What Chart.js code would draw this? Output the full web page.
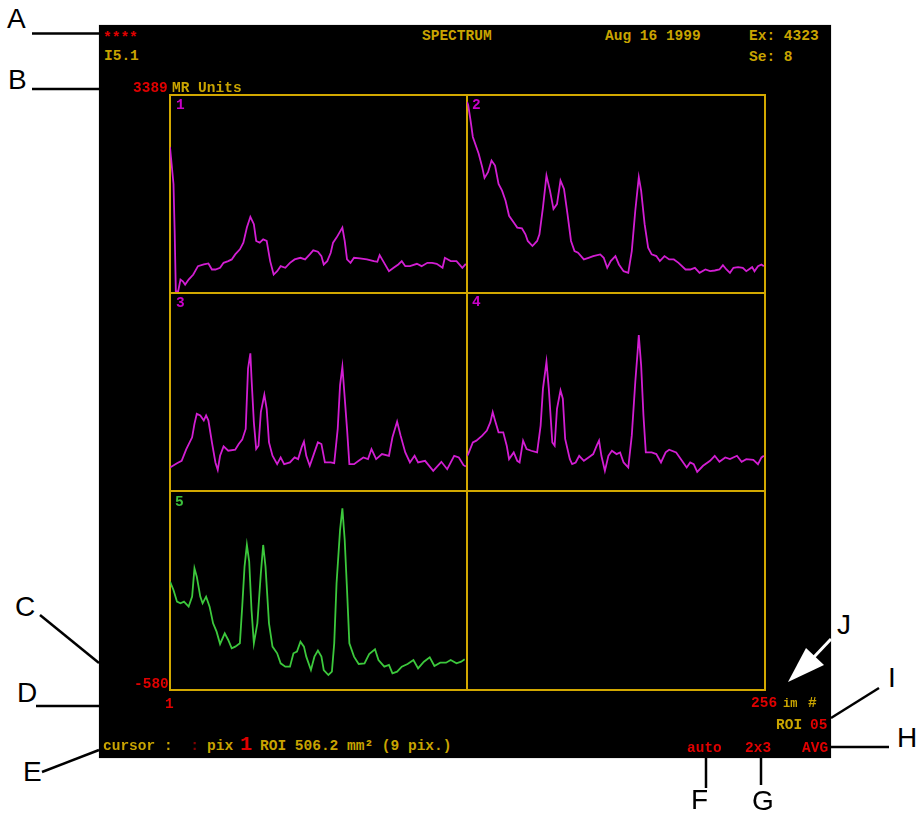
<!DOCTYPE html>
<html><head><meta charset="utf-8">
<script src="https://cdn.jsdelivr.net/npm/chart.js@4.4.1/dist/chart.umd.min.js"></script>
<style>
html,body{margin:0;padding:0;background:#fff;width:918px;height:815px;overflow:hidden;position:relative}
#scr{position:absolute;left:99px;top:25px;width:732px;height:733px;background:#000;box-shadow:0 0 1px #888}
.t{position:absolute;z-index:3;font-family:"Liberation Mono","DejaVu Sans Mono",monospace;font-size:14.5px;line-height:14.5px;white-space:pre;font-weight:bold}
.y{color:#c9a400}.r{color:#e00000}.m{color:#c800c8}.g{color:#3cc03c}.dr{color:#800000}
.L{position:absolute;z-index:3;font-family:"Liberation Sans",Arial,sans-serif;font-size:28px;line-height:28px;color:#000}
canvas{position:absolute;z-index:2}
svg{position:absolute;left:0;top:0;z-index:4}
</style></head><body>
<div id="scr"></div>

<div class="t r" style="left:103px;top:31px">****</div>
<div class="t y" style="left:104px;top:49px">I5.1</div>
<div class="t y" style="left:422px;top:29px">SPECTRUM</div>
<div class="t y" style="left:605px;top:29px">Aug 16 1999</div>
<div class="t y" style="left:749px;top:29px">Ex: 4323</div>
<div class="t y" style="left:749px;top:50px">Se: 8</div>
<div class="t r" style="left:133px;top:81px">3389</div>
<div class="t y" style="left:172px;top:81px">MR Units</div>
<div class="t m" style="left:176px;top:98px">1</div>
<div class="t m" style="left:472px;top:98px">2</div>
<div class="t m" style="left:176px;top:296px">3</div>
<div class="t m" style="left:472px;top:295px">4</div>
<div class="t g" style="left:175px;top:495px">5</div>
<div class="t r" style="left:134px;top:677px">-580</div>
<div class="t r" style="left:165px;top:697px">1</div>
<div class="t r" style="left:751px;top:696px">256</div>
<div class="t y" style="left:783px;top:696px"><span style="font-size:12px">im</span></div>
<div class="t y" style="left:808px;top:696px">#</div>
<div class="t y" style="left:776px;top:718px">ROI</div>
<div class="t r" style="left:810px;top:718px">05</div>
<div class="t r" style="left:687px;top:741px">auto</div>
<div class="t r" style="left:745px;top:741px">2x3</div>
<div class="t r" style="left:802px;top:741px">AVG</div>
<div class="t y" style="left:103px;top:739px">cursor :</div>
<div class="t dr" style="left:190px;top:739px">:</div>
<div class="t y" style="left:207px;top:739px">pix</div>
<div class="t r" style="left:240px;top:735px;font-size:20px;line-height:20px;font-weight:bold">1</div>
<div class="t y" style="left:260px;top:739px">ROI 506.2 mm² (9 pix.)</div>

<div class="L" style="left:7px;top:5px">A</div>
<div class="L" style="left:8px;top:66px">B</div>
<div class="L" style="left:15px;top:593px">C</div>
<div class="L" style="left:17px;top:679px">D</div>
<div class="L" style="left:23px;top:758px">E</div>
<div class="L" style="left:691px;top:786px">F</div>
<div class="L" style="left:752px;top:787px">G</div>
<div class="L" style="left:897px;top:724px">H</div>
<div class="L" style="left:888px;top:664px">I</div>
<div class="L" style="left:837px;top:611px">J</div>

<svg width="918" height="815">
 <g stroke="#000" stroke-width="2.5" fill="none">
  <line x1="32" y1="33.5" x2="99" y2="33.5"/>
  <line x1="32" y1="89" x2="99" y2="89"/>
  <line x1="40" y1="615" x2="99" y2="663"/>
  <line x1="36" y1="706" x2="99" y2="706"/>
  <line x1="42" y1="772" x2="99" y2="750"/>
  <line x1="706" y1="758" x2="706" y2="788"/>
  <line x1="761" y1="758" x2="761" y2="785"/>
  <line x1="831" y1="747" x2="889" y2="747"/>
  <line x1="831" y1="718" x2="879" y2="688"/>
 </g>
 <line x1="831" y1="639" x2="813" y2="658" stroke="#fff" stroke-width="3"/>
 <polygon points="788,682 806,648 824,665" fill="#fff"/>
</svg>

<script>
// Axis ranges (MR units / image number)
const xTicks = [1, 256];
const yTicks = [-580, 3389];

// Spectra: [image #, MR units]
const spectrum1 = [[1,2346],[4,1606],[5,665],[6,-546],[8,-546],[10,-311],[12,-345],[14,-412],[17,-311],[21,-210],[25,-42],[30,-8],[34,12],[37,-109],[40,-109],[44,-75],[47,25],[51,59],[54,93],[57,194],[61,295],[64,429],[67,732],[70,947],[73,799],[75,463],[78,429],[81,496],[84,463],[87,59],[90,-210],[93,-143],[96,-42],[100,-75],[104,25],[108,93],[113,126],[117,93],[121,194],[124,274],[128,247],[131,160],[133,-8],[136,59],[139,227],[141,429],[144,530],[149,732],[151,463],[153,93],[156,25],[159,126],[164,113],[170,93],[176,59],[179,46],[181,180],[184,59],[189,-143],[193,-75],[197,-8],[200,59],[203,-42],[207,-42],[213,5],[217,-42],[222,25],[226,25],[230,5],[235,-75],[237,126],[242,59],[247,59],[252,-75],[255,5]];

const spectrum2 = [[1,3250],[2,3187],[4,2884],[6,2548],[11,2212],[14,1943],[16,1727],[19,1842],[22,2077],[25,1976],[28,1606],[31,1472],[34,1270],[37,967],[41,833],[44,732],[48,718],[51,597],[53,463],[57,362],[61,463],[63,597],[66,1135],[69,1774],[72,1472],[75,1102],[78,1203],[81,1674],[84,1505],[87,1001],[90,463],[93,261],[96,227],[101,93],[105,126],[109,160],[115,194],[118,126],[121,-75],[124,59],[128,160],[131,-8],[135,-143],[139,-176],[142,261],[145,1068],[148,1741],[150,1472],[153,799],[156,328],[159,194],[163,160],[166,59],[170,160],[174,93],[178,93],[182,25],[188,-109],[192,-109],[196,-75],[200,-176],[205,-109],[209,-143],[213,-129],[217,-109],[220,-22],[223,-109],[226,-176],[229,-75],[233,-62],[237,-75],[240,-143],[245,-62],[247,-143],[250,-42],[253,-8],[255,-42]];

const spectrum3 = [[1,-109],[7,-22],[11,25],[15,261],[20,496],[22,765],[24,967],[27,934],[30,833],[32,934],[34,833],[37,395],[40,-8],[42,-156],[44,126],[47,315],[51,227],[57,247],[60,362],[63,449],[66,664],[68,1875],[70,2178],[71,1674],[73,799],[75,261],[77,328],[79,1001],[82,1351],[84,1068],[86,395],[89,126],[93,-42],[96,93],[99,-42],[104,-8],[108,93],[111,59],[114,294],[116,409],[118,126],[121,-75],[125,194],[128,395],[131,362],[134,-8],[139,-8],[142,-22],[145,664],[147,1539],[149,1909],[150,1606],[153,664],[155,-42],[159,-42],[163,25],[167,93],[171,59],[174,261],[178,59],[183,160],[189,126],[192,496],[196,812],[199,530],[203,194],[207,-8],[211,126],[214,-8],[220,25],[227,-176],[234,5],[239,-143],[245,126],[249,93],[253,-62],[255,-89]];

const spectrum4 = [[1,120],[2,160],[6,395],[9,429],[14,530],[18,631],[21,799],[23,1001],[25,833],[28,597],[32,597],[35,328],[37,59],[41,194],[44,25],[46,-8],[49,429],[52,261],[56,227],[61,194],[64,732],[66,1472],[69,2010],[71,1472],[74,395],[76,328],[78,1068],[81,1438],[83,1270],[85,463],[89,59],[91,-42],[94,-8],[97,126],[101,25],[105,93],[109,160],[112,328],[114,429],[116,126],[119,-176],[122,126],[125,227],[129,160],[132,194],[135,-8],[139,-109],[142,530],[145,1606],[147,2212],[148,2548],[150,1943],[152,934],[154,194],[159,194],[163,160],[167,-8],[171,194],[174,247],[180,194],[183,93],[189,-109],[192,-8],[195,-42],[198,-196],[203,-75],[209,25],[213,126],[217,5],[222,93],[226,59],[232,126],[236,5],[240,59],[246,46],[250,-42],[253,93],[255,126]];

const spectrum5 = [[1,1581],[4,1415],[7,1182],[10,1149],[13,1182],[17,1083],[20,1282],[22,1847],[24,1681],[27,1282],[29,1149],[32,1282],[35,1083],[38,750],[41,584],[44,338],[48,551],[51,418],[54,251],[57,285],[61,351],[63,1083],[65,1881],[67,2313],[69,1981],[71,1016],[73,351],[76,750],[79,1748],[81,2313],[83,1881],[86,750],[89,285],[93,152],[96,-48],[100,-115],[104,-115],[107,152],[110,185],[113,384],[116,285],[118,85],[122,-181],[125,85],[128,205],[131,85],[133,-181],[137,-281],[140,-214],[142,351],[144,1548],[147,2612],[149,3044],[151,2413],[153,1415],[155,351],[159,85],[163,-61],[168,-48],[172,138],[177,231],[180,18],[185,-115],[189,-81],[192,-248],[196,-214],[200,-115],[205,-61],[210,18],[214,-148],[219,-15],[224,72],[228,-101],[233,-35],[238,-35],[242,18],[247,-48],[251,-15],[254,32]];

const panelSeries = [spectrum1, spectrum2, spectrum3, spectrum4, spectrum5, null];
const panelColors = ['#d21ed2','#d21ed2','#d21ed2','#d21ed2','#3cc83c',null];

// Layout (pixels)
const colEdges = [170, 467, 765];
const rowEdges = [95, 293, 491, 690];
const PAD = 3;

const frame = {
  id: 'frame',
  beforeDatasetsDraw(ch) {
    const a = ch.chartArea, ctx = ch.ctx;
    ctx.save();
    ctx.strokeStyle = '#d2a800';
    ctx.lineWidth = 2;
    ctx.strokeRect(a.left, a.top, a.right - a.left, a.bottom - a.top);
    ctx.restore();
  }
};

panelSeries.forEach((series, i) => {
  const col = i % 2, row = Math.floor(i / 2);
  const x0 = colEdges[col], x1 = colEdges[col + 1];
  const y0 = rowEdges[row], y1 = rowEdges[row + 1];
  const cv = document.createElement('canvas');
  cv.width = x1 - x0 + 2 * PAD;
  cv.height = y1 - y0 + 2 * PAD;
  cv.style.left = (x0 - PAD) + 'px';
  cv.style.top = (y0 - PAD) + 'px';
  document.body.appendChild(cv);
  new Chart(cv, {
    type: 'line',
    data: {
      datasets: series ? [{
        data: series.map(p => ({x: p[0], y: p[1]})),
        borderColor: panelColors[i],
        borderWidth: 1.8,
        pointRadius: 0,
        tension: 0,
        fill: false
      }] : []
    },
    options: {
      responsive: false,
      animation: false,
      devicePixelRatio: 1,
      events: [],
      layout: {padding: PAD},
      plugins: {legend: {display: false}, tooltip: {enabled: false}},
      scales: {
        x: {type: 'linear', min: xTicks[0], max: xTicks[1], display: false},
        y: {type: 'linear', min: yTicks[0], max: yTicks[1], display: false}
      }
    },
    plugins: [frame]
  });
});
</script>
</body></html>
